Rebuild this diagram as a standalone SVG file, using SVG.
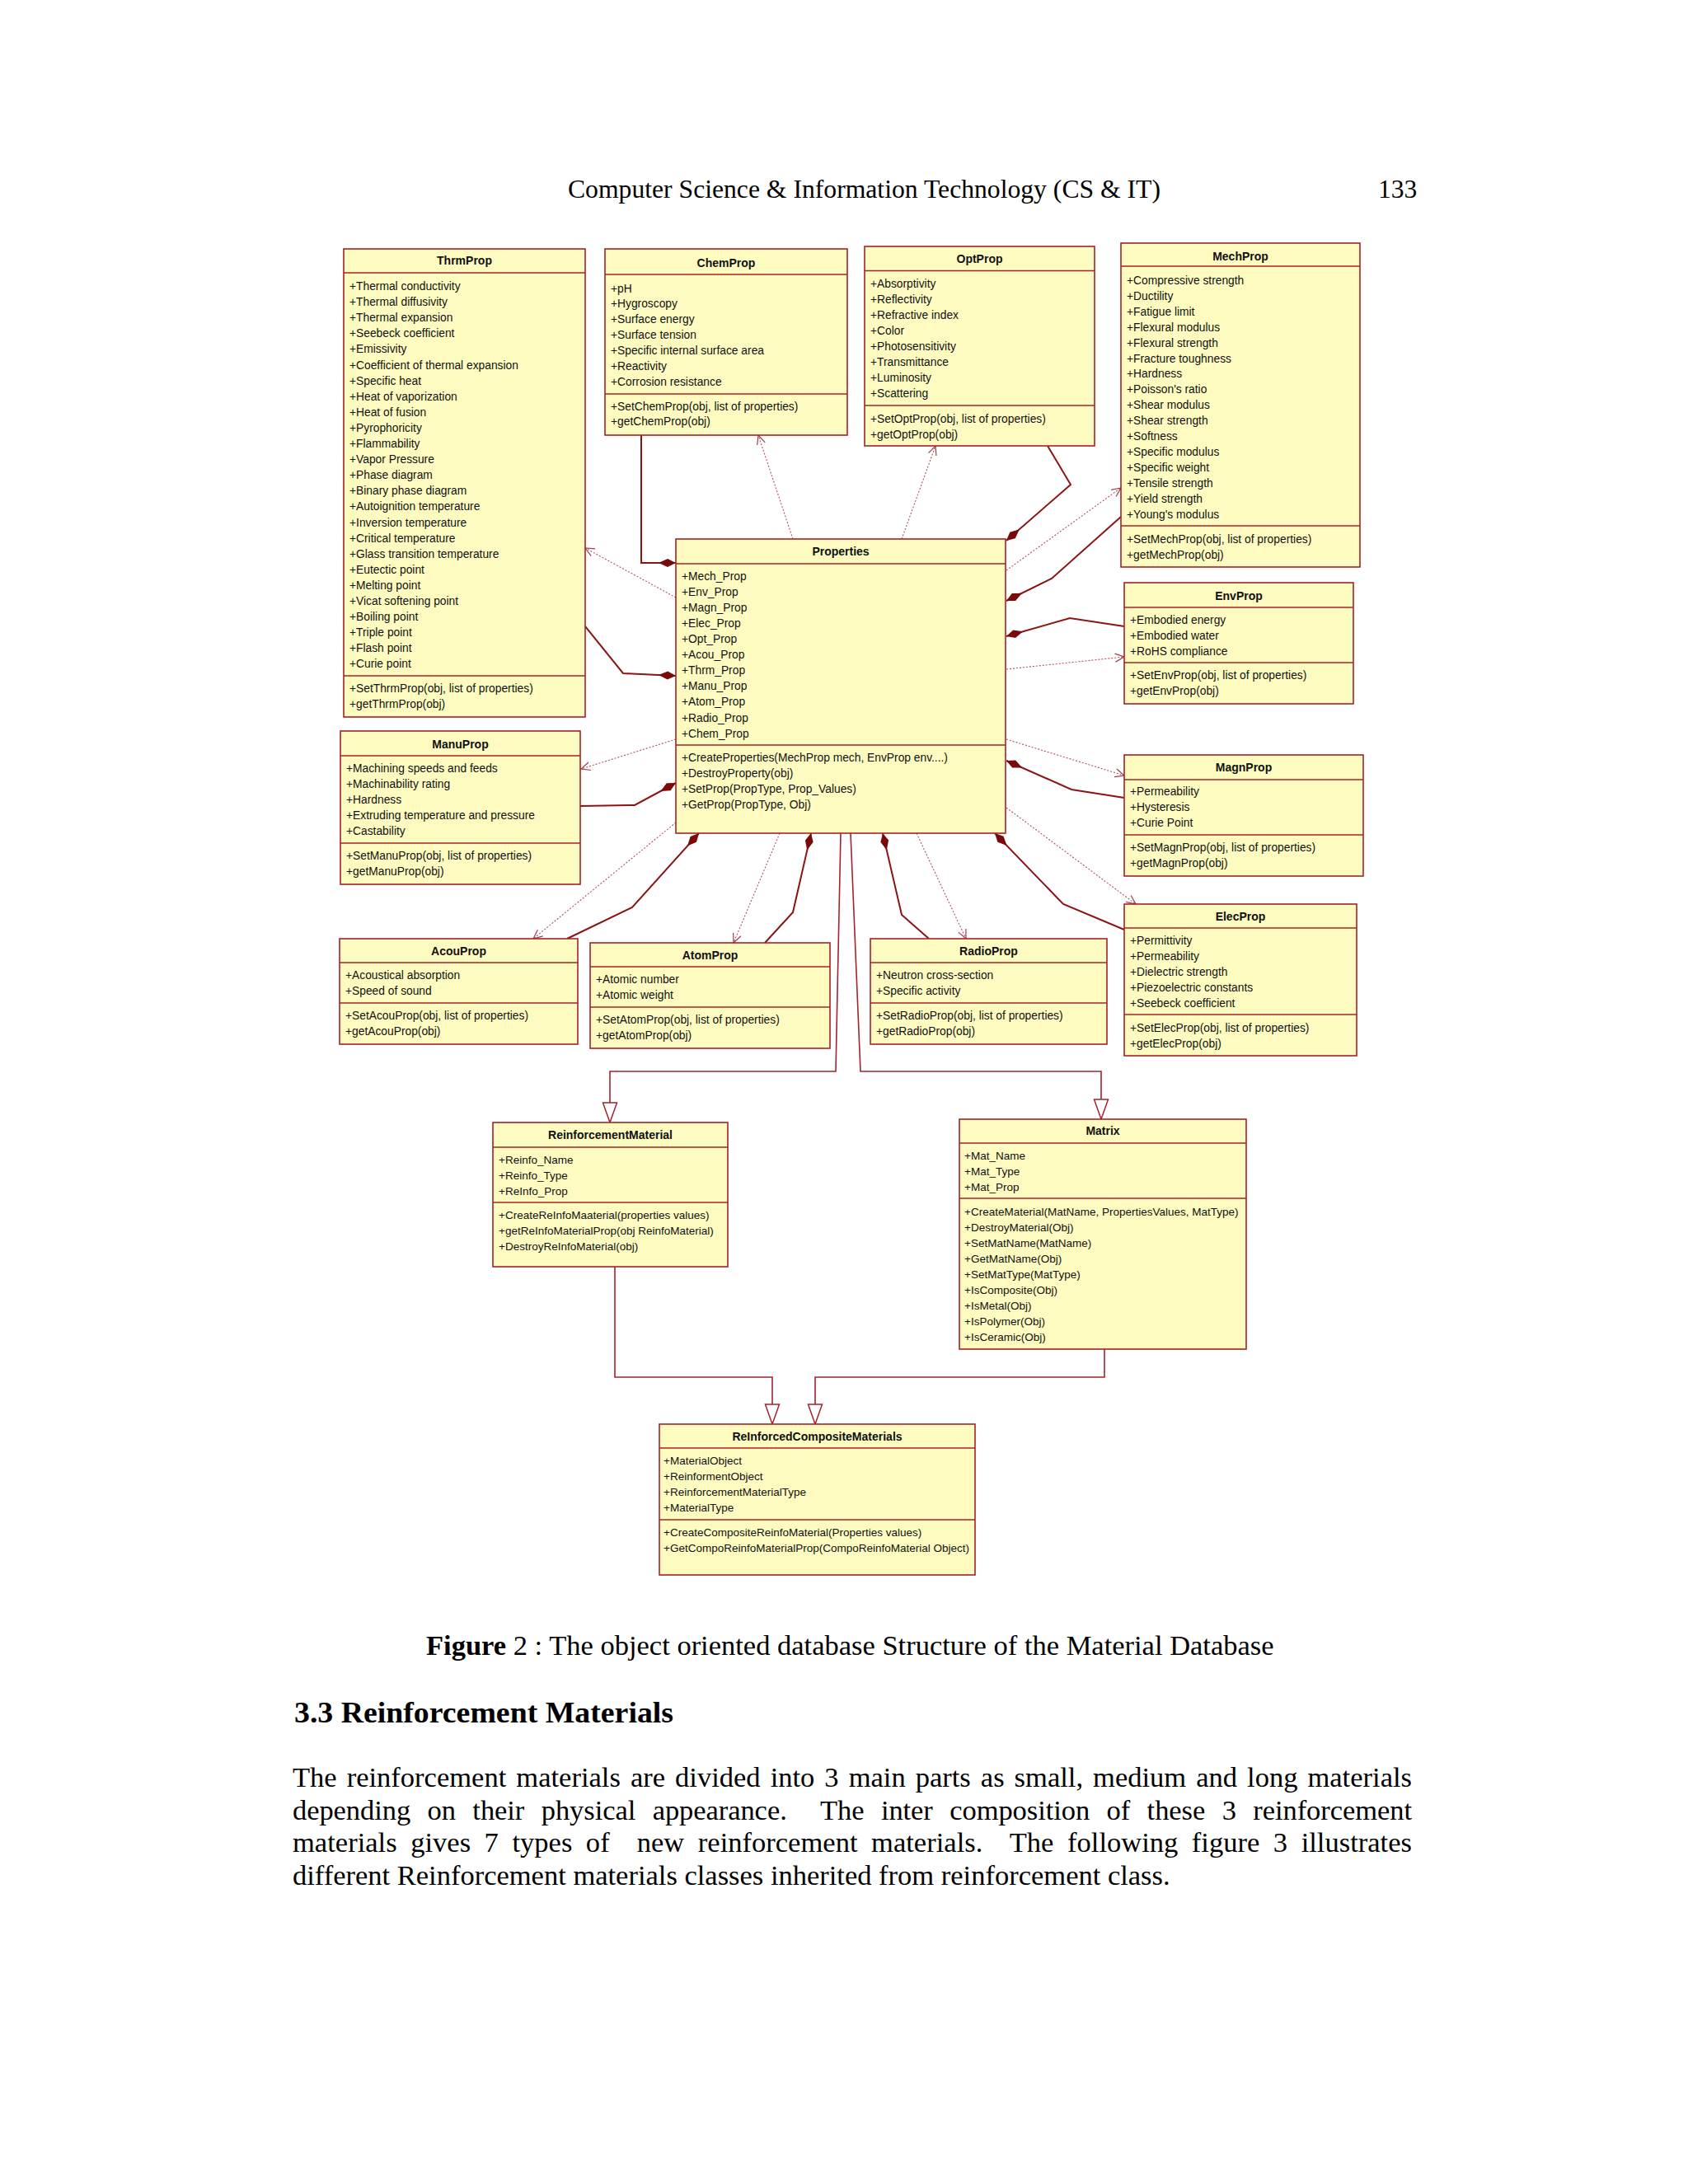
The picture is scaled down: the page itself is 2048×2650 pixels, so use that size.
<svg xmlns="http://www.w3.org/2000/svg" width="2048" height="2650" viewBox="0 0 2048 2650">
<style>
.box{fill:#FEFBC0;stroke:#A3242A;stroke-width:1.6}
.sep{stroke:#A3242A;stroke-width:1.6}
.t{font-family:"Liberation Sans",Arial,sans-serif;font-size:13.8px;fill:#111}
.ttl{font-family:"Liberation Sans",Arial,sans-serif;font-size:14px;font-weight:bold;fill:#111;text-anchor:middle}
.sm{font-size:13.5px}
.comp{fill:none;stroke:#8B1414;stroke-width:2}
.dep{fill:none;stroke:#B3505C;stroke-width:1.1;stroke-dasharray:2 2}
.gen{fill:none;stroke:#A3242A;stroke-width:1.6}
.pg{font-family:"Liberation Serif","Times New Roman",serif;fill:#000}
.pre{white-space:pre}
</style>
<defs>
<marker id="dia" markerUnits="userSpaceOnUse" markerWidth="30" markerHeight="30" refX="0" refY="0" orient="auto" overflow="visible"><path d="M0,0 L10,-5 L21,0 L10,5 Z" fill="#7A0A0A"/></marker>
<marker id="dep" markerUnits="userSpaceOnUse" markerWidth="30" markerHeight="30" refX="0" refY="0" orient="auto" overflow="visible"><path d="M-11,-5 L0,0 L-11,5" fill="none" stroke="#A33A48" stroke-width="1.2"/></marker>
<marker id="gen" markerUnits="userSpaceOnUse" markerWidth="40" markerHeight="40" refX="0" refY="0" orient="auto" overflow="visible"><path d="M0,0 L-24,-8.5 L-24,8.5 Z" fill="#fff" stroke="#A3242A" stroke-width="1.5"/></marker>
</defs>
<rect x="0" y="0" width="2048" height="2650" fill="#fff"/>

<g id="page-text">
<text class="pg" x="689" y="240" font-size="31.5" textLength="719" lengthAdjust="spacingAndGlyphs">Computer Science &amp; Information Technology (CS &amp; IT)</text>
<text class="pg" x="1672" y="240" font-size="31.5">133</text>
<text class="pg" x="517" y="2008" font-size="34.5"><tspan font-weight="bold">Figure</tspan> 2 : The object oriented database Structure of the Material Database</text>
<text class="pg" x="357" y="2090" font-size="36" font-weight="bold" textLength="460" lengthAdjust="spacingAndGlyphs">3.3 Reinforcement Materials</text>
<text class="pg pre" x="355" y="2168" font-size="34.5" word-spacing="3.4" textLength="1358" lengthAdjust="spacing">The reinforcement materials are divided into 3 main parts as small, medium and long materials</text>
<text class="pg pre" x="355" y="2208" font-size="34.5" word-spacing="11.9" textLength="1358" lengthAdjust="spacing">depending on their physical appearance.  The inter composition of these 3 reinforcement</text>
<text class="pg pre" x="355" y="2247" font-size="34.5" word-spacing="7.9" textLength="1358" lengthAdjust="spacing">materials gives 7 types of  new reinforcement materials.  The following figure 3 illustrates</text>
<text class="pg" x="355" y="2287" font-size="34.5">different Reinforcement materials classes inherited from reinforcement class.</text>
</g>

<g id="connectors">
<polyline class="comp" marker-start="url(#dia)" points="820,683 778,683 778,528"/>
<polyline class="comp" marker-start="url(#dia)" points="1221,656 1299,588 1271,541"/>
<polyline class="comp" marker-start="url(#dia)" points="1221,729 1276,702 1360,627"/>
<polyline class="comp" marker-start="url(#dia)" points="1221,772 1298,750 1364,760"/>
<polyline class="comp" marker-start="url(#dia)" points="1221,923 1300,958 1364,968"/>
<polyline class="comp" marker-start="url(#dia)" points="1207,1011 1290,1097 1364,1128"/>
<polyline class="comp" marker-start="url(#dia)" points="1071,1011 1094,1110 1127,1139"/>
<polyline class="comp" marker-start="url(#dia)" points="984,1011 962,1107 928,1144"/>
<polyline class="comp" marker-start="url(#dia)" points="848,1011 767,1101 688,1139"/>
<polyline class="comp" marker-start="url(#dia)" points="820,950 770,977 704,978"/>
<polyline class="comp" marker-start="url(#dia)" points="820,820 756,817 710,760"/>
<line class="dep" marker-end="url(#dep)" x1="962" y1="654" x2="920" y2="528"/>
<line class="dep" marker-end="url(#dep)" x1="1094" y1="654" x2="1135" y2="541"/>
<line class="dep" marker-end="url(#dep)" x1="1221" y1="692" x2="1360" y2="592"/>
<line class="dep" marker-end="url(#dep)" x1="1221" y1="812" x2="1364" y2="797"/>
<line class="dep" marker-end="url(#dep)" x1="1221" y1="897" x2="1364" y2="941"/>
<line class="dep" marker-end="url(#dep)" x1="1221" y1="980" x2="1378" y2="1097"/>
<line class="dep" marker-end="url(#dep)" x1="1112" y1="1011" x2="1172" y2="1139"/>
<line class="dep" marker-end="url(#dep)" x1="946" y1="1011" x2="890" y2="1144"/>
<line class="dep" marker-end="url(#dep)" x1="820" y1="998" x2="647" y2="1139"/>
<line class="dep" marker-end="url(#dep)" x1="820" y1="897" x2="705" y2="933"/>
<line class="dep" marker-end="url(#dep)" x1="820" y1="725" x2="710" y2="665"/>
<polyline class="gen" marker-end="url(#gen)" points="1020,1011 1014,1300 740,1300 740,1362"/>
<polyline class="gen" marker-end="url(#gen)" points="1032,1011 1044,1300 1336,1300 1336,1358"/>
<polyline class="gen" marker-end="url(#gen)" points="746,1537 746,1671 937,1671 937,1728"/>
<polyline class="gen" marker-end="url(#gen)" points="1340,1637 1340,1671 989,1671 989,1728"/>
</g>

<g id="ThrmProp">
<rect class="box" x="417" y="302" width="293" height="568"/>
<line class="sep" x1="417" y1="331" x2="710" y2="331"/>
<line class="sep" x1="417" y1="820" x2="710" y2="820"/>
<text class="ttl" x="563.5" y="321">ThrmProp</text>
<text class="t"><tspan x="424" y="352">+Thermal conductivity</tspan><tspan x="424" dy="19.1">+Thermal diffusivity</tspan><tspan x="424" dy="19.1">+Thermal expansion</tspan><tspan x="424" dy="19.1">+Seebeck coefficient</tspan><tspan x="424" dy="19.1">+Emissivity</tspan><tspan x="424" dy="19.1">+Coefficient of thermal expansion</tspan><tspan x="424" dy="19.1">+Specific heat</tspan><tspan x="424" dy="19.1">+Heat of vaporization</tspan><tspan x="424" dy="19.1">+Heat of fusion</tspan><tspan x="424" dy="19.1">+Pyrophoricity</tspan><tspan x="424" dy="19.1">+Flammability</tspan><tspan x="424" dy="19.1">+Vapor Pressure</tspan><tspan x="424" dy="19.1">+Phase diagram</tspan><tspan x="424" dy="19.1">+Binary phase diagram</tspan><tspan x="424" dy="19.1">+Autoignition temperature</tspan><tspan x="424" dy="19.1">+Inversion temperature</tspan><tspan x="424" dy="19.1">+Critical temperature</tspan><tspan x="424" dy="19.1">+Glass transition temperature</tspan><tspan x="424" dy="19.1">+Eutectic point</tspan><tspan x="424" dy="19.1">+Melting point</tspan><tspan x="424" dy="19.1">+Vicat softening point</tspan><tspan x="424" dy="19.1">+Boiling point</tspan><tspan x="424" dy="19.1">+Triple point</tspan><tspan x="424" dy="19.1">+Flash point</tspan><tspan x="424" dy="19.1">+Curie point</tspan></text>
<text class="t"><tspan x="424" y="840">+SetThrmProp(obj, list of properties)</tspan><tspan x="424" y="859">+getThrmProp(obj)</tspan></text>
</g>

<g id="ChemProp">
<rect class="box" x="734" y="302" width="294" height="226"/>
<line class="sep" x1="734" y1="333" x2="1028" y2="333"/>
<line class="sep" x1="734" y1="478" x2="1028" y2="478"/>
<text class="ttl" x="881" y="324">ChemProp</text>
<text class="t"><tspan x="741" y="354.5">+pH</tspan><tspan x="741" dy="18.9">+Hygroscopy</tspan><tspan x="741" dy="18.9">+Surface energy</tspan><tspan x="741" dy="18.9">+Surface tension</tspan><tspan x="741" dy="18.9">+Specific internal surface area</tspan><tspan x="741" dy="18.9">+Reactivity</tspan><tspan x="741" dy="18.9">+Corrosion resistance</tspan></text>
<text class="t"><tspan x="741" y="497.5">+SetChemProp(obj, list of properties)</tspan><tspan x="741" y="516">+getChemProp(obj)</tspan></text>
</g>

<g id="OptProp">
<rect class="box" x="1049" y="299" width="279" height="242"/>
<line class="sep" x1="1049" y1="328.5" x2="1328" y2="328.5"/>
<line class="sep" x1="1049" y1="492" x2="1328" y2="492"/>
<text class="ttl" x="1188.5" y="319">OptProp</text>
<text class="t"><tspan x="1056" y="348.5">+Absorptivity</tspan><tspan x="1056" dy="19.1">+Reflectivity</tspan><tspan x="1056" dy="19.1">+Refractive index</tspan><tspan x="1056" dy="19.1">+Color</tspan><tspan x="1056" dy="19.1">+Photosensitivity</tspan><tspan x="1056" dy="19.1">+Transmittance</tspan><tspan x="1056" dy="19.1">+Luminosity</tspan><tspan x="1056" dy="19.1">+Scattering</tspan></text>
<text class="t"><tspan x="1056" y="512.5">+SetOptProp(obj, list of properties)</tspan><tspan x="1056" y="531.5">+getOptProp(obj)</tspan></text>
</g>

<g id="MechProp">
<rect class="box" x="1360" y="295" width="290" height="393"/>
<line class="sep" x1="1360" y1="323" x2="1650" y2="323"/>
<line class="sep" x1="1360" y1="638" x2="1650" y2="638"/>
<text class="ttl" x="1505" y="315.5">MechProp</text>
<text class="t"><tspan x="1367" y="345">+Compressive strength</tspan><tspan x="1367" dy="18.9">+Ductility</tspan><tspan x="1367" dy="18.9">+Fatigue limit</tspan><tspan x="1367" dy="18.9">+Flexural modulus</tspan><tspan x="1367" dy="18.9">+Flexural strength</tspan><tspan x="1367" dy="18.9">+Fracture toughness</tspan><tspan x="1367" dy="18.9">+Hardness</tspan><tspan x="1367" dy="18.9">+Poisson's ratio</tspan><tspan x="1367" dy="18.9">+Shear modulus</tspan><tspan x="1367" dy="18.9">+Shear strength</tspan><tspan x="1367" dy="18.9">+Softness</tspan><tspan x="1367" dy="18.9">+Specific modulus</tspan><tspan x="1367" dy="18.9">+Specific weight</tspan><tspan x="1367" dy="18.9">+Tensile strength</tspan><tspan x="1367" dy="18.9">+Yield strength</tspan><tspan x="1367" dy="18.9">+Young's modulus</tspan></text>
<text class="t"><tspan x="1367" y="659">+SetMechProp(obj, list of properties)</tspan><tspan x="1367" y="678">+getMechProp(obj)</tspan></text>
</g>

<g id="Properties">
<rect class="box" x="820" y="654" width="400" height="357"/>
<line class="sep" x1="820" y1="684" x2="1220" y2="684"/>
<line class="sep" x1="820" y1="904" x2="1220" y2="904"/>
<text class="ttl" x="1020" y="674">Properties</text>
<text class="t"><tspan x="827" y="704">+Mech_Prop</tspan><tspan x="827" dy="19.06">+Env_Prop</tspan><tspan x="827" dy="19.06">+Magn_Prop</tspan><tspan x="827" dy="19.06">+Elec_Prop</tspan><tspan x="827" dy="19.06">+Opt_Prop</tspan><tspan x="827" dy="19.06">+Acou_Prop</tspan><tspan x="827" dy="19.06">+Thrm_Prop</tspan><tspan x="827" dy="19.06">+Manu_Prop</tspan><tspan x="827" dy="19.06">+Atom_Prop</tspan><tspan x="827" dy="19.06">+Radio_Prop</tspan><tspan x="827" dy="19.06">+Chem_Prop</tspan></text>
<text class="t"><tspan x="827" y="923.5">+CreateProperties(MechProp mech, EnvProp env....)</tspan><tspan x="827" y="943">+DestroyProperty(obj)</tspan><tspan x="827" y="962">+SetProp(PropType, Prop_Values)</tspan><tspan x="827" y="981">+GetProp(PropType, Obj)</tspan></text>
</g>

<g id="EnvProp">
<rect class="box" x="1364" y="707" width="278" height="147"/>
<line class="sep" x1="1364" y1="737" x2="1642" y2="737"/>
<line class="sep" x1="1364" y1="804" x2="1642" y2="804"/>
<text class="ttl" x="1503" y="728">EnvProp</text>
<text class="t"><tspan x="1371" y="757">+Embodied energy</tspan><tspan x="1371" dy="19">+Embodied water</tspan><tspan x="1371" dy="19">+RoHS compliance</tspan></text>
<text class="t"><tspan x="1371" y="824">+SetEnvProp(obj, list of properties)</tspan><tspan x="1371" y="843">+getEnvProp(obj)</tspan></text>
</g>

<g id="MagnProp">
<rect class="box" x="1364" y="916" width="290" height="147"/>
<line class="sep" x1="1364" y1="946" x2="1654" y2="946"/>
<line class="sep" x1="1364" y1="1013" x2="1654" y2="1013"/>
<text class="ttl" x="1509" y="936">MagnProp</text>
<text class="t"><tspan x="1371" y="965">+Permeability</tspan><tspan x="1371" dy="19">+Hysteresis</tspan><tspan x="1371" dy="19">+Curie Point</tspan></text>
<text class="t"><tspan x="1371" y="1033">+SetMagnProp(obj, list of properties)</tspan><tspan x="1371" y="1052">+getMagnProp(obj)</tspan></text>
</g>

<g id="ManuProp">
<rect class="box" x="413" y="887" width="291" height="186"/>
<line class="sep" x1="413" y1="917" x2="704" y2="917"/>
<line class="sep" x1="413" y1="1023" x2="704" y2="1023"/>
<text class="ttl" x="558.5" y="908">ManuProp</text>
<text class="t"><tspan x="420" y="937">+Machining speeds and feeds</tspan><tspan x="420" dy="19">+Machinability rating</tspan><tspan x="420" dy="19">+Hardness</tspan><tspan x="420" dy="19">+Extruding temperature and pressure</tspan><tspan x="420" dy="19">+Castability</tspan></text>
<text class="t"><tspan x="420" y="1043">+SetManuProp(obj, list of properties)</tspan><tspan x="420" y="1062">+getManuProp(obj)</tspan></text>
</g>

<g id="ElecProp">
<rect class="box" x="1364" y="1097" width="282" height="184"/>
<line class="sep" x1="1364" y1="1126" x2="1646" y2="1126"/>
<line class="sep" x1="1364" y1="1231" x2="1646" y2="1231"/>
<text class="ttl" x="1505" y="1117">ElecProp</text>
<text class="t"><tspan x="1371" y="1146">+Permittivity</tspan><tspan x="1371" dy="19">+Permeability</tspan><tspan x="1371" dy="19">+Dielectric strength</tspan><tspan x="1371" dy="19">+Piezoelectric constants</tspan><tspan x="1371" dy="19">+Seebeck coefficient</tspan></text>
<text class="t"><tspan x="1371" y="1252">+SetElecProp(obj, list of properties)</tspan><tspan x="1371" y="1271">+getElecProp(obj)</tspan></text>
</g>

<g id="AcouProp">
<rect class="box" x="412" y="1139" width="289" height="128"/>
<line class="sep" x1="412" y1="1168" x2="701" y2="1168"/>
<line class="sep" x1="412" y1="1217" x2="701" y2="1217"/>
<text class="ttl" x="556.5" y="1159">AcouProp</text>
<text class="t"><tspan x="419" y="1188">+Acoustical absorption</tspan><tspan x="419" dy="19">+Speed of sound</tspan></text>
<text class="t"><tspan x="419" y="1237">+SetAcouProp(obj, list of properties)</tspan><tspan x="419" y="1256">+getAcouProp(obj)</tspan></text>
</g>

<g id="AtomProp">
<rect class="box" x="716" y="1144" width="291" height="128"/>
<line class="sep" x1="716" y1="1173" x2="1007" y2="1173"/>
<line class="sep" x1="716" y1="1222" x2="1007" y2="1222"/>
<text class="ttl" x="861.5" y="1164">AtomProp</text>
<text class="t"><tspan x="723" y="1193">+Atomic number</tspan><tspan x="723" dy="19">+Atomic weight</tspan></text>
<text class="t"><tspan x="723" y="1242">+SetAtomProp(obj, list of properties)</tspan><tspan x="723" y="1261">+getAtomProp(obj)</tspan></text>
</g>

<g id="RadioProp">
<rect class="box" x="1056" y="1139" width="287" height="128"/>
<line class="sep" x1="1056" y1="1168" x2="1343" y2="1168"/>
<line class="sep" x1="1056" y1="1217" x2="1343" y2="1217"/>
<text class="ttl" x="1199.5" y="1159">RadioProp</text>
<text class="t"><tspan x="1063" y="1188">+Neutron cross-section</tspan><tspan x="1063" dy="19">+Specific activity</tspan></text>
<text class="t"><tspan x="1063" y="1237">+SetRadioProp(obj, list of properties)</tspan><tspan x="1063" y="1256">+getRadioProp(obj)</tspan></text>
</g>

<g id="ReinforcementMaterial">
<rect class="box" x="598" y="1362" width="285" height="175"/>
<line class="sep" x1="598" y1="1392" x2="883" y2="1392"/>
<line class="sep" x1="598" y1="1459" x2="883" y2="1459"/>
<text class="ttl" x="740.5" y="1382">ReinforcementMaterial</text>
<text class="t sm"><tspan x="605" y="1412">+Reinfo_Name</tspan><tspan x="605" dy="19">+Reinfo_Type</tspan><tspan x="605" dy="19">+ReInfo_Prop</tspan></text>
<text class="t sm"><tspan x="605" y="1479">+CreateReInfoMaaterial(properties values)</tspan><tspan x="605" dy="19">+getReInfoMaterialProp(obj ReinfoMaterial)</tspan><tspan x="605" dy="19">+DestroyReInfoMaterial(obj)</tspan></text>
</g>

<g id="Matrix">
<rect class="box" x="1164" y="1358" width="348" height="279"/>
<line class="sep" x1="1164" y1="1387" x2="1512" y2="1387"/>
<line class="sep" x1="1164" y1="1454" x2="1512" y2="1454"/>
<text class="ttl" x="1338" y="1377">Matrix</text>
<text class="t sm"><tspan x="1170" y="1407">+Mat_Name</tspan><tspan x="1170" dy="19">+Mat_Type</tspan><tspan x="1170" dy="19">+Mat_Prop</tspan></text>
<text class="t sm"><tspan x="1170" y="1475">+CreateMaterial(MatName, PropertiesValues, MatType)</tspan><tspan x="1170" dy="19">+DestroyMaterial(Obj)</tspan><tspan x="1170" dy="19">+SetMatName(MatName)</tspan><tspan x="1170" dy="19">+GetMatName(Obj)</tspan><tspan x="1170" dy="19">+SetMatType(MatType)</tspan><tspan x="1170" dy="19">+IsComposite(Obj)</tspan><tspan x="1170" dy="19">+IsMetal(Obj)</tspan><tspan x="1170" dy="19">+IsPolymer(Obj)</tspan><tspan x="1170" dy="19">+IsCeramic(Obj)</tspan></text>
</g>

<g id="ReInforcedCompositeMaterials">
<rect class="box" x="800" y="1728" width="383" height="183"/>
<line class="sep" x1="800" y1="1757" x2="1183" y2="1757"/>
<line class="sep" x1="800" y1="1844" x2="1183" y2="1844"/>
<text class="ttl" x="991.5" y="1748">ReInforcedCompositeMaterials</text>
<text class="t sm"><tspan x="805" y="1777">+MaterialObject</tspan><tspan x="805" dy="19">+ReinformentObject</tspan><tspan x="805" dy="19">+ReinforcementMaterialType</tspan><tspan x="805" dy="19">+MaterialType</tspan></text>
<text class="t sm"><tspan x="805" y="1864">+CreateCompositeReinfoMaterial(Properties values)</tspan><tspan x="805" y="1883">+GetCompoReinfoMaterialProp(CompoReinfoMaterial Object)</tspan></text>
</g>
</svg>
